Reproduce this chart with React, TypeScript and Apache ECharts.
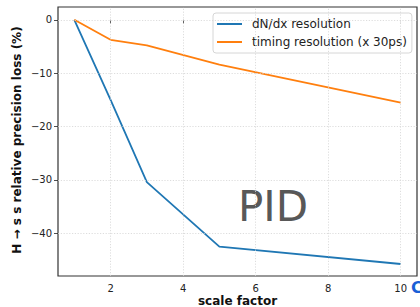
import React, { useEffect, useRef } from "react";
import * as echarts from "echarts";

const scaleFactors = [1, 2, 3, 5, 10];
const dndxLoss = [0, -15.0, -30.4, -42.5, -45.75];
const timingLoss = [0, -3.75, -4.8, -8.4, -15.5];
const seriesNames = ["dN/dx resolution", "timing resolution (x 30ps)"];
const xTicks = [2, 4, 6, 8, 10];
const yTicks = [-40, -30, -20, -10, 0];
const xRange = [0.55, 10.45];
const yRange = [-48, 2.4];

const FONT = "DejaVu Sans";

export default function App() {
  const ref = useRef<HTMLDivElement>(null);
  useEffect(() => {
    if (!ref.current) return;
    const chart = echarts.init(ref.current, null, { renderer: "svg" });
    const tickStyle = { color: "#222", width: 0.8 };
    const gridLineStyle = { color: "#d4d4d4", type: [1.2, 1.6], width: 0.8 };
    chart.setOption({
      animation: false,
      grid: {
        left: 58,
        top: 7,
        right: 3,
        bottom: 31,
        show: true,
        borderColor: "#333",
        borderWidth: 1.2,
        backgroundColor: "transparent",
      },
      xAxis: {
        type: "value",
        min: xRange[0],
        max: xRange[1],
        axisLine: { show: false },
        axisTick: { show: true, inside: false, length: 4, lineStyle: tickStyle, customValues: xTicks },
        axisLabel: {
          customValues: xTicks,
          color: "#222",
          fontFamily: FONT,
          fontSize: 10,
          margin: 7,
        },
        splitLine: { show: false },
      },
      yAxis: {
        type: "value",
        min: yRange[0],
        max: yRange[1],
        axisLine: { show: false },
        axisTick: { show: true, inside: false, length: 4, lineStyle: tickStyle, customValues: yTicks },
        axisLabel: {
          customValues: yTicks,
          color: "#222",
          fontFamily: FONT,
          fontSize: 10,
          margin: 6,
          formatter: (v: number) => String(v).replace("-", "\u2212"),
        },
        splitLine: { show: false },
      },
      legend: {
        orient: "vertical",
        left: 213,
        top: 13,
        padding: [3, 5, 3, 4],
        itemGap: 2,
        itemWidth: 25,
        itemHeight: 2,
        icon: "rect",
        backgroundColor: "rgba(255,255,255,0.85)",
        borderColor: "#d6d6d6",
        borderWidth: 1,
        borderRadius: 3,
        textStyle: {
          fontFamily: FONT,
          fontSize: 12,
          color: "#222",
          lineHeight: 16,
          padding: [0, 0, 0, 5],
        },
        data: seriesNames,
      },
      series: [
        {
          name: "grid",
          type: "line",
          data: [],
          silent: true,
          markLine: {
            silent: true,
            symbol: "none",
            label: { show: false },
            lineStyle: gridLineStyle,
            emphasis: { disabled: true },
            data: [
              ...xTicks.map((v) => ({ xAxis: v })),
              ...yTicks.map((v) => ({ yAxis: v })),
            ],
          },
        },
        {
          name: seriesNames[0],
          type: "line",
          data: scaleFactors.map((x, i) => [x, dndxLoss[i]]),
          symbol: "none",
          lineStyle: { color: "#1f77b4", width: 1.8 },
          itemStyle: { color: "#1f77b4" },
        },
        {
          name: seriesNames[1],
          type: "line",
          data: scaleFactors.map((x, i) => [x, timingLoss[i]]),
          symbol: "none",
          lineStyle: { color: "#ff7f0e", width: 1.8 },
          itemStyle: { color: "#ff7f0e" },
        },
      ],
      graphic: [
        {
          type: "text",
          left: 238,
          top: 185,
          style: { text: "PID", fontFamily: FONT, fontSize: 42, fill: "#585858" },
        },
        {
          type: "text",
          x: 17,
          y: 140,
          rotation: Math.PI / 2,
          style: {
            text: "H \u2192 s s relative precision loss (%)",
            fontFamily: FONT,
            fontWeight: "bold",
            fontSize: 12,
            fill: "#111",
            align: "center",
            verticalAlign: "middle",
          },
        },
        {
          type: "text",
          x: 237.5,
          y: 301,
          style: {
            text: "scale factor",
            fontFamily: FONT,
            fontWeight: "bold",
            fontSize: 12,
            fill: "#111",
            align: "center",
            verticalAlign: "middle",
          },
        },
        {
          type: "text",
          x: 411,
          y: 287,
          style: {
            text: "C",
            fontFamily: FONT,
            fontWeight: "bold",
            fontSize: 16,
            fill: "#1a5fd6",
            align: "left",
            verticalAlign: "middle",
          },
        },
      ],
    });
    return () => chart.dispose();
  }, []);
  return <div ref={ref} style={{ width: 420, height: 307, position: "absolute", left: 0, top: 0 }} />;
}
